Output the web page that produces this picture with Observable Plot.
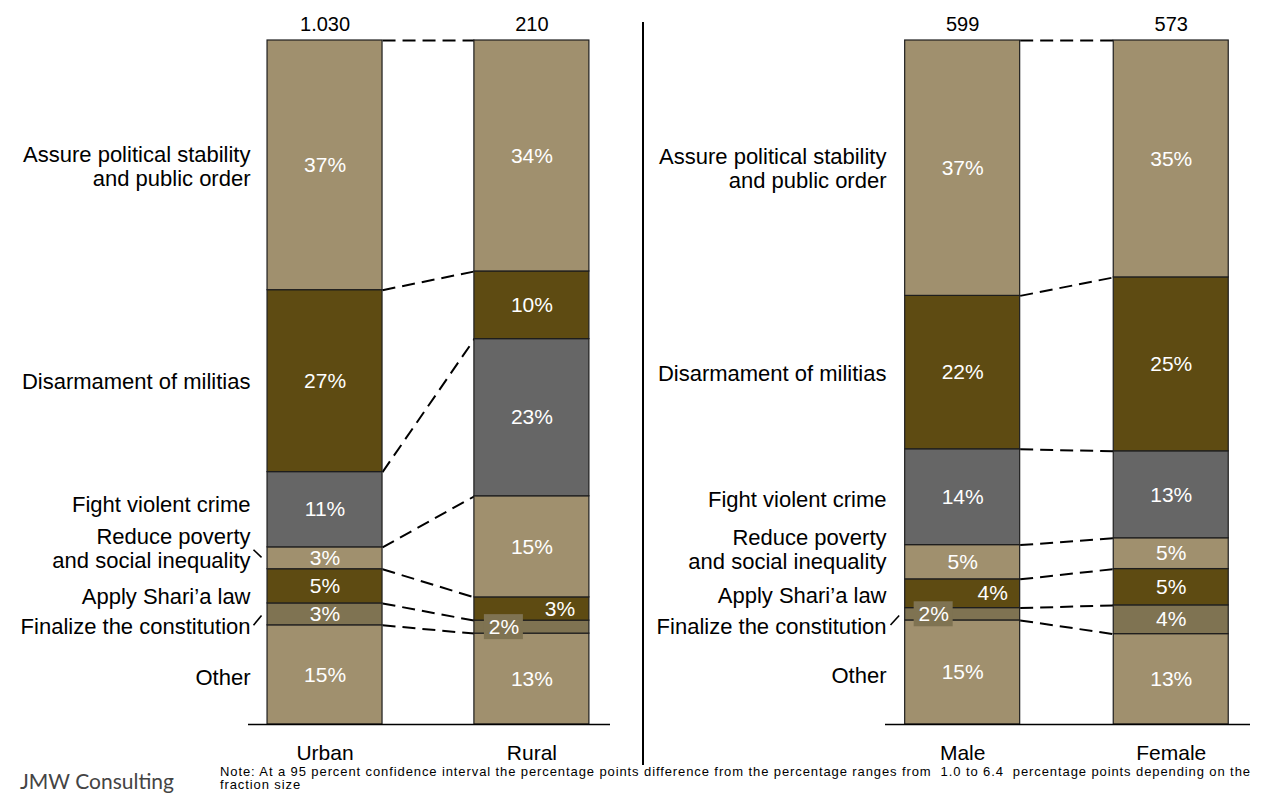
<!DOCTYPE html>
<html>
<head>
<meta charset="utf-8">
<script src="https://cdn.jsdelivr.net/npm/d3@7"></script>
<script src="https://cdn.jsdelivr.net/npm/@observablehq/plot@0.6"></script>
<style>
  body { margin: 0; background: #fff; }
  #wrap { position: relative; width: 1273px; height: 803px; overflow: hidden; font-family: "Liberation Sans", Arial, sans-serif; }
  #left { position: absolute; left: 0; top: 0; }
  #right { position: absolute; left: 643px; top: 0; }
  #divider { position: absolute; left: 642px; top: 22px; width: 2px; height: 743px; background: #000; }
  #brand { position: absolute; left: 20px; top: 768px; font-family: Lato, "Open Sans", sans-serif; font-size: 21px; color: #444; }
  #note { position: absolute; left: 220px; top: 765px; font-size: 13px; letter-spacing: 0.9px; line-height: 13px; white-space: pre; color: #000; }
</style>
</head>
<body>
<div id="wrap">
  <div id="left"></div>
  <div id="right"></div>
  <div id="divider"></div>
  <div id="brand">JMW Consulting</div>
  <div id="note"></div>
</div>
<script>
// ---- data (top segment first) ----
const categories = [
  "Assure political stability\nand public order",
  "Disarmament of militias",
  "Fight violent crime",
  "Reduce poverty\nand social inequality",
  "Apply Shari’a law",
  "Finalize the constitution",
  "Other"
];
const groups = ["Urban", "Rural", "Male", "Female"];
const totals = [1030, 210, 599, 573];
const urban  = [36.5, 26.6, 11.0, 3.2, 5.0, 3.2, 14.5];
const rural  = [33.8, 9.9, 23.0, 14.8, 3.4, 1.9, 13.3];
const male   = [37.3, 22.4, 14.0, 5.0, 4.2, 1.8, 15.2];
const female = [34.6, 25.4, 12.7, 4.5, 5.3, 4.2, 13.2];
const noteLines = [
  "Note: At a 95 percent confidence interval the percentage points difference from the percentage ranges from  1.0 to 6.4  percentage points depending on the",
  "fraction size"
];

// ---- styling ----
const palette = ["#A0906E", "#5E4B12", "#666666", "#A0906E", "#5E4B12", "#7F7352", "#A0906E"];
const fmtTotal = d3.formatLocale({decimal: ",", thousands: ".", grouping: [3], currency: ["", ""]}).format(",");
const FONT = "'Liberation Sans', Arial, sans-serif";

function panel(opts) {
  const {names, values, tots, width, marginLeft, marginRight, nudge, leaders, specials, labelDx} = opts;
  const H = 770, mt = 40, mb = 46;
  const xDomain = [-0.37, 1.38];
  const ppu = (width - marginLeft - marginRight) / (xDomain[1] - xDomain[0]);
  const ppp = (H - mt - mb) / 100;
  const hw = 57.5 / ppu;

  const rows = [];
  names.forEach((name, g) => {
    const vals = values[g];
    const sum = d3.sum(vals);
    let acc = 0;
    for (let i = categories.length - 1; i >= 0; --i) {
      const h = vals[i] / sum * 100;
      rows.push({group: name, g, cat: categories[i], ci: i, value: vals[i], y1: acc, y2: acc + h, mid: acc + h / 2});
      acc += h;
    }
  });
  const cell = (g, ci) => rows.find(r => r.g === g && r.ci === ci);

  const links = categories.map((c, i) => ({x1: hw, x2: 1 - hw, y1: cell(0, i).y2, y2: cell(1, i).y2}));

  const catLabels = categories.map((c, i) => ({cat: c, ci: i, mid: cell(0, i).mid, y: cell(0, i).mid - nudge[i] / ppp}));

  const leaderRows = leaders.map(i => {
    const L = catLabels[i];
    return {x1: xDomain[0] + 5 / ppu, x2: -hw - 6 / ppu,
            y1: L.y + 0.1 * (L.mid - L.y), y2: L.mid - 0.1 * (L.mid - L.y)};
  });

  const pctRows = rows.map(r => {
    const s = specials.find(s => s.g === r.g && s.ci === r.ci);
    return {...r, x: r.g + (s ? s.dx / ppu : 0), box: s && s.box};
  });
  const boxes = pctRows.filter(r => r.box).map(r => ({
    x1: r.x - 19.5 / ppu, x2: r.x + 19.5 / ppu, y1: r.mid - 12.5 / ppp, y2: r.mid + 12.5 / ppp, cat: r.cat
  }));

  return Plot.plot({
    width, height: H,
    marginTop: mt, marginBottom: mb, marginLeft, marginRight,
    style: {fontFamily: FONT, fontSize: "21px", color: "#000", background: "transparent"},
    x: {domain: xDomain, ticks: [0, 1], tickFormat: i => names[i], tickSize: 0, tickPadding: 21, label: null},
    y: {domain: [0, 100], axis: null},
    color: {domain: categories, range: palette},
    marks: [
      Plot.link(links, {x1: "x1", x2: "x2", y1: "y1", y2: "y2", stroke: "#000", strokeWidth: 2, strokeDasharray: "13,7"}),
      Plot.rect(rows, {x1: d => d.g - hw, x2: d => d.g + hw, y1: "y1", y2: "y2", fill: "cat", stroke: "#1e1e1e", strokeWidth: 1.2}),
      Plot.ruleY([0], {stroke: "#000", strokeWidth: 1.5}),
      Plot.rect(boxes, {x1: "x1", x2: "x2", y1: "y1", y2: "y2", fill: "cat"}),
      Plot.text(pctRows, {x: "x", y: "mid", text: d => Math.round(d.value) + "%", fill: "#fff", fontSize: 21, lineAnchor: "middle"}),
      Plot.text(names, {x: (d, i) => i, y: 100, text: (d, i) => fmtTotal(tots[i]), dy: -10, lineAnchor: "bottom", fontSize: 20}),
      Plot.text(catLabels, {x: xDomain[0], y: "y", text: "cat", textAnchor: "end", dx: labelDx, lineAnchor: "middle", lineHeight: 1.09, fontSize: 22, fill: "#000"}),
      Plot.link(leaderRows, {x1: "x1", x2: "x2", y1: "y1", y2: "y2", stroke: "#000", strokeWidth: 1.6})
    ]
  });
}

document.getElementById("left").append(panel({
  names: groups.slice(0, 2), values: [urban, rural], tots: totals.slice(0, 2),
  width: 643, marginLeft: 248, marginRight: 33,
  nudge: [0.5, 0, -5.5, -9.5, 9.5, 12, 2.5],
  leaders: [3, 5],
  specials: [{g: 1, ci: 4, dx: 28}, {g: 1, ci: 5, dx: -28, box: true}],
  labelDx: 2
}));
document.getElementById("right").append(panel({
  names: groups.slice(2, 4), values: [male, female], tots: totals.slice(2, 4),
  width: 630, marginLeft: 242, marginRight: 23,
  nudge: [0, 1, 2.5, -12.5, 2, 12, 3],
  leaders: [5],
  specials: [{g: 0, ci: 4, dx: 30}, {g: 0, ci: 5, dx: -29, box: true}],
  labelDx: 1
}));
document.getElementById("note").textContent = noteLines.join("\n");
</script>
</body>
</html>
